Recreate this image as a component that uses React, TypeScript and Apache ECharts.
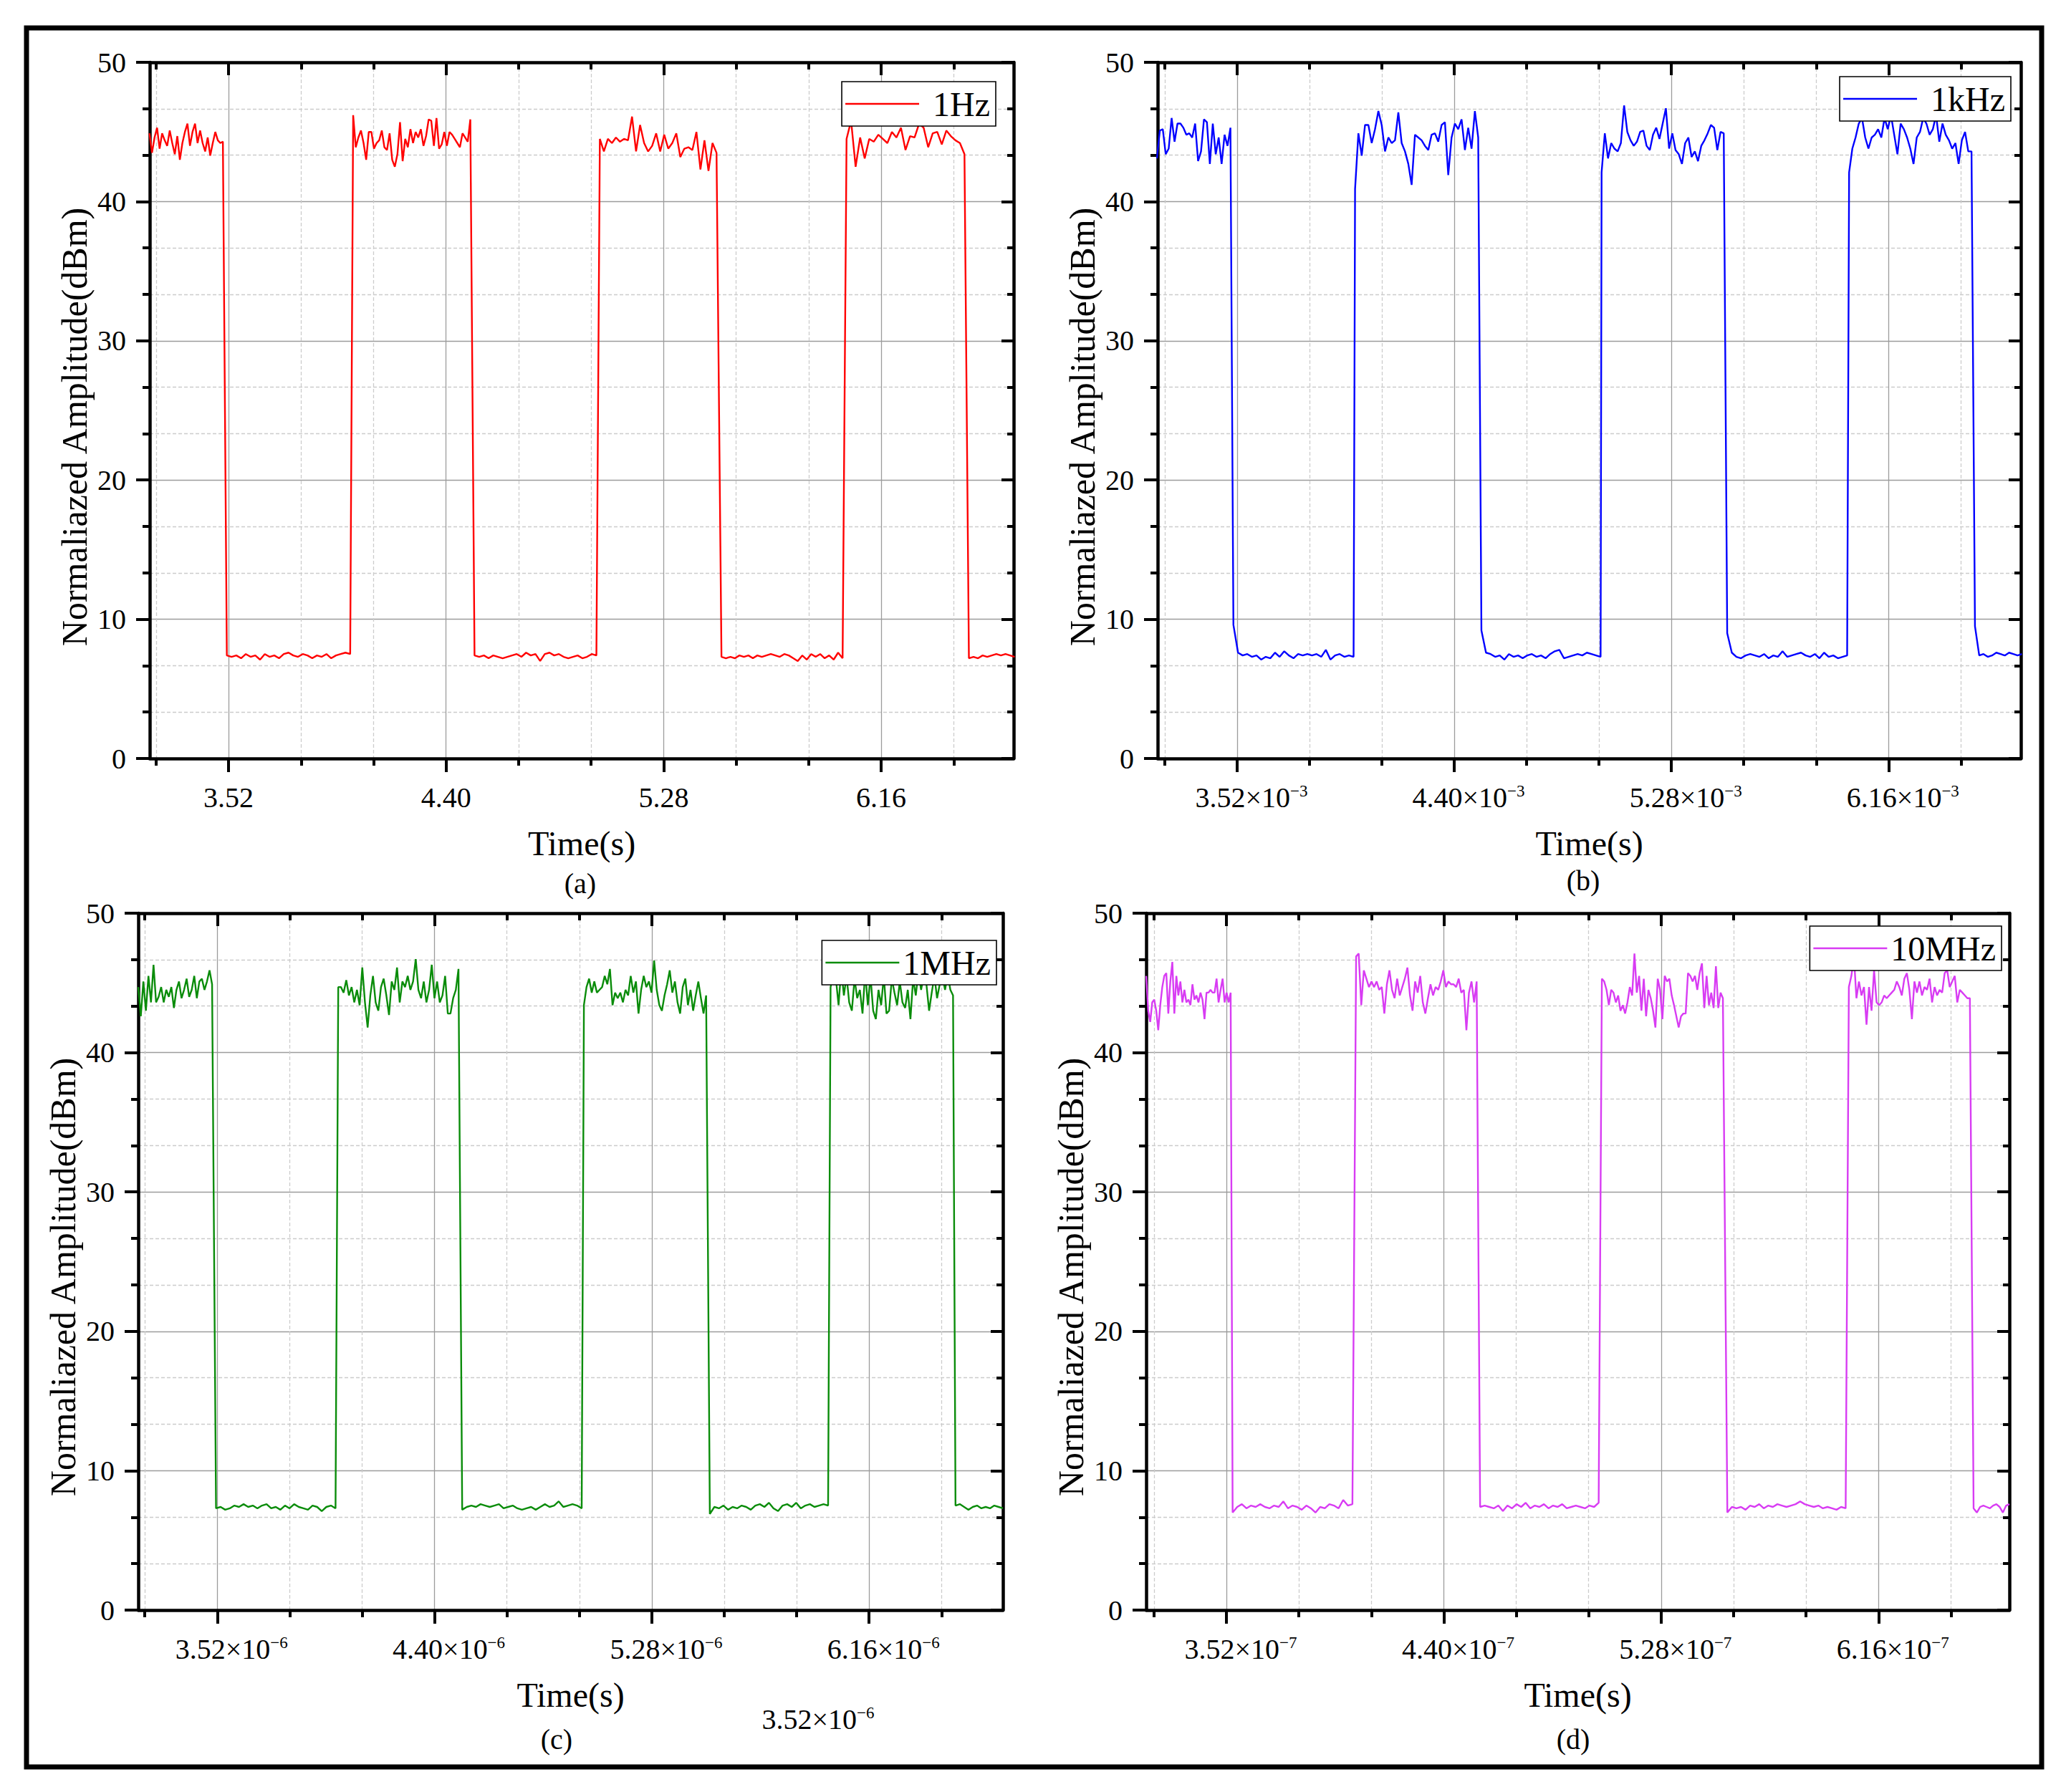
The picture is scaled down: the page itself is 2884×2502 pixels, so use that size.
import React, { useEffect, useRef } from 'react';
import * as echarts from 'echarts';

const FONT = "'Liberation Serif', 'Times New Roman', Times, serif";

// ---- axis ticks ----
const majorTicks = [3.52, 4.40, 5.28, 6.16];
const minorTicks = [3.2267, 3.8133, 4.1067, 4.6933, 4.9867, 5.5733, 5.8667, 6.4533];
const yMin = 0;
const yMax = 50;
const yStep = 10;

// ---- panels ----
const panelNames = ['1Hz', '1kHz', '1MHz', '10MHz'];
const panelColors = ['#ff0000', '#0000ff', '#0a8c0a', '#d83cf3'];
const panelExponents = ['', '−3', '−6', '−7'];
const panelCaptions = ['(a)', '(b)', '(c)', '(d)'];
const xRanges = [[3.201, 6.696], [3.198, 6.696], [3.2, 6.702], [3.195, 6.69]];
const extraLabel = { mantissa: '3.52', exponent: '−6' };

// ---- 1Hz (a) ----
const a_start = [3.2, 3.513, 4.024, 4.515, 5.022, 5.514, 6.02, 6.515];
const a_end = [3.497, 4.012, 4.498, 5.008, 5.494, 6.004, 6.497, 6.7];
const a_h1 = [44.9, 43.5, 44.6, 45.3, 43.8, 44.9, 44.4, 44.0, 45.1, 44.2, 43.4, 44.7, 43.0, 44.2, 45.0, 45.6, 44.0, 45.0, 45.6, 44.2, 45.1, 44.2, 43.6, 44.6, 43.3, 44.2, 45.0, 44.4, 44.2, 44.3];
const a_l1 = [7.4, 7.3, 7.4, 7.2, 7.5, 7.3, 7.4, 7.1, 7.5, 7.3, 7.4, 7.2, 7.5, 7.6, 7.4, 7.3, 7.5, 7.4, 7.2, 7.4, 7.3, 7.5, 7.2, 7.4, 7.5, 7.6, 7.5];
const a_h2 = [46.2, 43.9, 44.6, 45.1, 44.2, 43.0, 45.0, 45.0, 43.8, 44.2, 44.4, 45.1, 43.9, 43.7, 44.9, 43.0, 42.5, 43.4, 45.7, 42.9, 44.5, 43.9, 45.2, 44.2, 45.0, 44.6, 45.2, 44.0, 44.7, 45.9, 45.8, 44.0, 46.0, 43.8, 44.1, 45.0, 44.0, 45.0, 44.8, 44.5, 44.2, 43.9, 44.9, 44.6, 44.3, 45.9];
const a_l2 = [7.4, 7.3, 7.4, 7.2, 7.4, 7.3, 7.2, 7.3, 7.4, 7.5, 7.3, 7.6, 7.4, 7.5, 7.0, 7.5, 7.6, 7.4, 7.5, 7.3, 7.2, 7.3, 7.4, 7.2, 7.3, 7.5, 7.4];
const a_h3 = [44.5, 43.6, 44.5, 44.2, 44.6, 44.3, 44.5, 44.4, 46.1, 43.6, 45.5, 44.2, 43.6, 44.0, 44.9, 43.6, 44.8, 43.8, 44.2, 44.9, 43.2, 43.8, 43.9, 43.7, 45.0, 42.3, 44.4, 42.2, 44.2, 43.5];
const a_l3 = [7.3, 7.2, 7.3, 7.2, 7.4, 7.3, 7.4, 7.2, 7.4, 7.3, 7.4, 7.5, 7.4, 7.3, 7.5, 7.4, 7.2, 7.0, 7.4, 7.1, 7.5, 7.3, 7.5, 7.2, 7.4, 7.1, 7.6, 7.2];
const a_h4 = [44.5, 45.8, 42.5, 44.6, 43.1, 44.5, 44.3, 44.8, 44.5, 44.2, 45.0, 44.6, 45.3, 43.7, 44.7, 44.6, 45.6, 45.3, 43.9, 44.9, 45.0, 44.1, 45.1, 44.7, 44.4, 44.2, 43.4];
const a_l4 = [7.2, 7.3, 7.2, 7.4, 7.3, 7.4, 7.5, 7.4, 7.5, 7.4, 7.3];

// ---- 1kHz (b) ----
const b_start = [3.195, 3.505, 3.998, 4.51, 4.997, 5.506, 6.0, 6.51];
const b_end = [3.493, 3.992, 4.497, 4.993, 5.492, 5.992, 6.496, 6.7];
const b_h1 = [43.1, 45.1, 45.2, 43.4, 43.8, 46.0, 44.3, 45.6, 45.6, 45.3, 44.8, 44.9, 44.6, 45.6, 42.9, 43.6, 45.9, 45.7, 42.7, 45.6, 43.4, 44.6, 42.7, 44.8, 44.0, 45.3];
const b_l1 = [9.6, 7.6, 7.4, 7.5, 7.3, 7.4, 7.1, 7.3, 7.2, 7.6, 7.3, 7.7, 7.4, 7.2, 7.5, 7.4, 7.5, 7.4, 7.5, 7.3, 7.8, 7.1, 7.4, 7.5, 7.3, 7.4, 7.3];
const b_h2 = [40.9, 44.9, 43.3, 45.5, 45.5, 44.2, 45.2, 46.5, 45.5, 43.6, 44.6, 44.2, 44.4, 46.4, 44.2, 43.6, 42.7, 41.2, 44.8, 44.6, 44.4, 44.0, 43.7, 44.8, 44.9, 44.3, 45.5, 45.7, 41.9, 44.6, 45.6, 45.2, 45.9, 43.7, 45.3, 43.8, 46.5, 44.6];
const b_l2 = [9.2, 7.6, 7.5, 7.3, 7.4, 7.1, 7.5, 7.3, 7.4, 7.2, 7.4, 7.5, 7.3, 7.4, 7.2, 7.5, 7.7, 7.8, 7.2, 7.3, 7.4, 7.5, 7.4, 7.6, 7.5, 7.4, 7.3];
const b_h3 = [42.1, 44.9, 43.1, 44.2, 43.8, 43.6, 44.2, 46.9, 45.0, 44.4, 44.0, 44.3, 45.0, 45.1, 44.0, 43.7, 44.8, 45.3, 44.5, 45.6, 46.7, 43.8, 44.9, 43.7, 43.4, 42.7, 44.2, 44.6, 43.2, 43.6, 42.9, 44.0, 44.4, 44.9, 45.5, 45.3, 43.7, 45.0, 44.9];
const b_l3 = [9.0, 7.6, 7.3, 7.2, 7.4, 7.5, 7.4, 7.3, 7.5, 7.2, 7.4, 7.3, 7.7, 7.3, 7.4, 7.5, 7.6, 7.4, 7.3, 7.5, 7.2, 7.6, 7.3, 7.4, 7.2, 7.3, 7.4];
const b_h4 = [42.1, 43.8, 44.6, 45.6, 46.0, 44.6, 43.8, 44.6, 44.8, 45.2, 44.6, 46.0, 45.2, 46.2, 44.8, 43.4, 45.6, 45.2, 44.6, 43.8, 42.7, 44.6, 45.0, 46.0, 45.6, 44.8, 45.2, 46.2, 44.3, 45.6, 44.8, 44.4, 43.8, 44.2, 42.7, 44.4, 45.0, 43.6, 43.6];
const b_l4 = [9.5, 7.4, 7.5, 7.3, 7.4, 7.6, 7.5, 7.4, 7.6, 7.5, 7.4, 7.5];

// ---- 1MHz (c) ----
const c_start = [3.2, 3.515, 4.01, 4.512, 5.005, 5.515, 6.004, 6.51];
const c_end = [3.499, 3.999, 4.497, 4.996, 5.5, 5.994, 6.5, 6.702];
const c_h1 = [44.7, 42.6, 45.1, 43.0, 45.5, 43.6, 46.3, 43.6, 44.0, 44.7, 43.6, 44.5, 44.0, 44.7, 43.2, 44.5, 45.1, 43.9, 44.5, 45.3, 44.0, 44.5, 45.5, 43.9, 45.1, 45.3, 44.5, 45.1, 45.9, 44.9];
const c_l1 = [7.3, 7.4, 7.2, 7.3, 7.5, 7.4, 7.6, 7.4, 7.5, 7.3, 7.5, 7.6, 7.3, 7.4, 7.2, 7.5, 7.3, 7.6, 7.4, 7.3, 7.2, 7.5, 7.4, 7.1, 7.4, 7.5, 7.3];
const c_h2 = [44.7, 44.7, 44.3, 45.2, 44.1, 44.7, 43.6, 44.5, 43.4, 46.1, 43.6, 41.8, 44.1, 45.5, 43.6, 43.0, 44.7, 45.3, 44.1, 42.7, 45.1, 44.5, 46.1, 43.6, 45.1, 44.7, 45.5, 44.5, 45.1, 46.7, 44.5, 43.9, 45.1, 43.6, 44.5, 46.3, 43.9, 45.1, 43.6, 44.1, 45.5, 42.8, 42.8, 43.9, 44.5, 46.0];
const c_l2 = [7.2, 7.4, 7.5, 7.4, 7.6, 7.5, 7.4, 7.5, 7.6, 7.3, 7.4, 7.5, 7.3, 7.2, 7.3, 7.4, 7.2, 7.4, 7.6, 7.4, 7.5, 7.8, 7.4, 7.5, 7.6, 7.5, 7.3];
const c_h3 = [43.4, 44.7, 45.3, 44.3, 45.1, 44.3, 44.5, 44.7, 45.5, 44.9, 46.0, 43.4, 44.3, 43.9, 44.3, 43.6, 44.5, 44.1, 45.5, 44.3, 45.1, 42.8, 44.5, 45.5, 44.7, 45.1, 44.3, 46.6, 44.5, 43.4, 43.0, 44.1, 44.9, 45.9, 44.3, 45.1, 43.6, 42.8, 44.7, 45.3, 43.4, 44.5, 43.0, 44.1, 45.1, 43.9, 42.8, 44.1];
const c_l3 = [6.9, 7.4, 7.3, 7.5, 7.2, 7.4, 7.3, 7.5, 7.4, 7.2, 7.5, 7.6, 7.4, 7.7, 7.3, 7.1, 7.5, 7.6, 7.4, 7.7, 7.3, 7.5, 7.6, 7.4, 7.5, 7.6, 7.5];
const c_h4 = [44.7, 45.6, 45.3, 43.4, 46.0, 44.1, 45.5, 43.6, 43.0, 45.3, 43.9, 44.5, 42.8, 45.8, 43.4, 45.5, 43.0, 42.4, 44.5, 43.4, 45.5, 42.8, 43.0, 45.3, 44.3, 43.4, 45.1, 43.6, 43.2, 44.5, 42.4, 45.3, 44.1, 45.8, 44.5, 45.5, 44.9, 43.0, 44.3, 45.5, 43.9, 44.9, 45.5, 44.5, 45.6, 44.5, 44.1];
const c_l4 = [7.5, 7.6, 7.4, 7.2, 7.4, 7.5, 7.3, 7.4, 7.3, 7.5, 7.4, 7.3];

// ---- 10MHz (d) ----
const d_start = [3.195, 3.545, 4.045, 4.547, 5.04, 5.548, 6.04, 6.545];
const d_end = [3.537, 4.03, 4.533, 5.027, 5.53, 6.027, 6.53, 6.69];
const d_h1 = [45.5, 43.0, 42.2, 43.6, 43.8, 43.0, 41.6, 43.4, 44.7, 45.5, 45.7, 42.8, 45.1, 46.5, 42.8, 45.5, 44.1, 45.1, 43.6, 44.5, 43.6, 43.8, 43.4, 44.9, 43.8, 44.1, 43.6, 44.3, 43.8, 42.4, 44.3, 44.3, 44.5, 44.3, 44.3, 45.3, 43.6, 44.5, 45.3, 43.6, 44.3, 43.6, 44.3];
const d_l1 = [7.0, 7.4, 7.6, 7.3, 7.5, 7.4, 7.6, 7.4, 7.3, 7.5, 7.4, 7.8, 7.3, 7.5, 7.4, 7.2, 7.5, 7.3, 7.0, 7.4, 7.3, 7.6, 7.5, 7.3, 7.9, 7.5, 7.6];
const d_h2 = [46.9, 47.1, 43.4, 45.9, 45.3, 44.7, 45.1, 44.7, 45.1, 44.5, 44.7, 42.8, 44.9, 45.9, 44.5, 43.9, 45.3, 44.1, 44.7, 45.3, 46.1, 44.1, 43.0, 45.1, 44.3, 45.5, 43.6, 42.8, 43.9, 44.9, 44.1, 44.7, 44.5, 45.1, 45.9, 44.7, 45.1, 44.9, 44.9, 44.7, 45.3, 44.3, 44.5, 41.6, 44.3, 45.1, 43.6, 45.1];
const d_l2 = [7.4, 7.5, 7.4, 7.3, 7.5, 7.1, 7.5, 7.3, 7.6, 7.4, 7.7, 7.3, 7.5, 7.4, 7.6, 7.3, 7.5, 7.4, 7.6, 7.3, 7.4, 7.5, 7.4, 7.3, 7.5, 7.4, 7.7];
const d_h3 = [45.3, 45.1, 44.5, 43.4, 44.5, 44.3, 43.6, 44.1, 43.0, 43.4, 42.8, 43.6, 44.7, 44.1, 47.1, 44.3, 45.5, 43.0, 45.3, 42.6, 44.5, 43.9, 43.0, 41.8, 45.3, 44.5, 42.4, 45.5, 45.1, 45.3, 44.1, 43.4, 42.6, 41.8, 42.6, 42.8, 42.8, 45.7, 45.5, 45.1, 45.5, 44.5, 45.7, 46.4, 43.2, 45.5, 43.4, 44.3, 43.2, 46.2, 43.2, 44.3, 43.9];
const d_l3 = [7.0, 7.4, 7.3, 7.4, 7.2, 7.5, 7.4, 7.6, 7.3, 7.5, 7.4, 7.6, 7.5, 7.4, 7.5, 7.6, 7.8, 7.6, 7.5, 7.4, 7.5, 7.3, 7.4, 7.3, 7.2, 7.4, 7.3];
const d_h4 = [44.7, 45.5, 46.9, 43.9, 45.1, 44.1, 44.7, 42.0, 44.7, 43.0, 45.9, 43.6, 43.4, 43.6, 44.1, 43.9, 44.1, 44.3, 44.5, 45.1, 44.7, 44.1, 45.3, 45.7, 44.5, 42.4, 45.1, 44.3, 45.1, 44.1, 44.7, 44.5, 45.3, 43.6, 44.7, 44.1, 44.5, 44.3, 45.7, 45.9, 44.7, 45.1, 45.5, 43.6, 44.5, 44.3, 44.1, 43.9, 43.9];
const d_l4 = [7.3, 7.0, 7.4, 7.5, 7.4, 7.3, 7.5, 7.6, 7.4, 7.0, 7.5, 7.6];

const panelStarts = [a_start, b_start, c_start, d_start];
const panelEnds = [a_end, b_end, c_end, d_end];
const panelSegments = [
  [a_h1, a_l1, a_h2, a_l2, a_h3, a_l3, a_h4, a_l4],
  [b_h1, b_l1, b_h2, b_l2, b_h3, b_l3, b_h4, b_l4],
  [c_h1, c_l1, c_h2, c_l2, c_h3, c_l3, c_h4, c_l4],
  [d_h1, d_l1, d_h2, d_l2, d_h3, d_l3, d_h4, d_l4],
];

// ---- layout (pixels) ----
const GRIDS = [
  { left: 209, top: 87, width: 1206, height: 972 },
  { left: 1616, top: 87, width: 1205, height: 972 },
  { left: 193, top: 1275, width: 1207, height: 973 },
  { left: 1600, top: 1275, width: 1205, height: 973 },
];
const LEGEND_POS = [
  { right: 1494, top: 114 },
  { right: 77, top: 107 },
  { right: 1493, top: 1313 },
  { right: 90, top: 1293 },
];
const CAPTION_POS = [[810, 1233], [2210, 1229], [777, 2428], [2196, 2428]];
const YTITLE_POS = [[104, 596], [1511, 596], [88, 1783], [1495, 1783]];

function buildLine(starts: number[], ends: number[], segs: number[][]) {
  const out: number[][] = [];
  segs.forEach((seg, k) => {
    const n = seg.length;
    seg.forEach((v, j) => {
      out.push([starts[k] + ((ends[k] - starts[k]) * j) / (n - 1), v]);
    });
  });
  return out;
}

const RICH = {
  m: { fontSize: 40, fontFamily: FONT, color: '#000', padding: [0, 0, 0, 40] },
  s: { fontSize: 23, fontFamily: FONT, color: '#000', verticalAlign: 'top', lineHeight: 26 },
};

function buildOption() {
  const grid: any[] = [];
  const xAxis: any[] = [];
  const yAxis: any[] = [];
  const series: any[] = [];
  const legend: any[] = [];
  const graphic: any[] = [];
  const axisLineStyle = { color: '#000', width: 4.5 };
  const tickStyle = { color: '#000', width: 4 };

  for (let p = 0; p < 4; p++) {
    const g = GRIDS[p];
    grid.push({ ...g, containLabel: false, outerBoundsMode: 'none' });
    const [xmin, xmax] = xRanges[p];
    const exp = panelExponents[p];
    const fmt = (v: number) => (exp ? `{m|${v.toFixed(2)}×10}{s|${exp}}` : v.toFixed(2));
    // bottom major
    xAxis.push({
      type: 'value', gridIndex: p, position: 'bottom', min: xmin, max: xmax,
      axisLine: { show: true, onZero: false, lineStyle: axisLineStyle },
      axisTick: { show: true, customValues: majorTicks, length: 19, inside: false, lineStyle: tickStyle },
      axisLabel: {
        show: true, customValues: majorTicks, margin: 34, formatter: fmt, rich: RICH,
        fontSize: 40, fontFamily: FONT, color: '#000',
      },
      splitLine: { show: true, lineStyle: { color: '#9c9c9c', width: 1.3 } },
      name: 'Time(s)', nameLocation: 'middle', nameGap: 94,
      nameTextStyle: { fontSize: 48, fontFamily: FONT, color: '#000' },
    });
    // bottom minor
    xAxis.push({
      type: 'value', gridIndex: p, position: 'bottom', min: xmin, max: xmax,
      axisLine: { show: false, onZero: false },
      axisTick: { show: true, customValues: minorTicks, length: 10, inside: false, lineStyle: tickStyle },
      axisLabel: { show: false },
      splitLine: { show: true, lineStyle: { color: '#cccccc', width: 1.3, type: [5, 3] } },
    });
    // top major
    xAxis.push({
      type: 'value', gridIndex: p, position: 'top', min: xmin, max: xmax,
      axisLine: { show: true, onZero: false, lineStyle: axisLineStyle },
      axisTick: { show: true, customValues: majorTicks, length: 18, inside: true, lineStyle: tickStyle },
      axisLabel: { show: false },
      splitLine: { show: false },
    });
    // top minor
    xAxis.push({
      type: 'value', gridIndex: p, position: 'top', min: xmin, max: xmax,
      axisLine: { show: false, onZero: false },
      axisTick: { show: true, customValues: minorTicks, length: 10, inside: true, lineStyle: tickStyle },
      axisLabel: { show: false },
      splitLine: { show: false },
    });
    yAxis.push({
      type: 'value', gridIndex: p, position: 'left', min: yMin, max: yMax, interval: yStep,
      axisLine: { show: true, onZero: false, lineStyle: axisLineStyle },
      axisTick: { show: true, length: 19, inside: false, lineStyle: tickStyle },
      minorTick: { show: true, splitNumber: 3, length: 10, lineStyle: tickStyle },
      axisLabel: { show: true, margin: 33, fontSize: 40, fontFamily: FONT, color: '#000' },
      splitLine: { show: true, lineStyle: { color: '#9c9c9c', width: 1.3 } },
      minorSplitLine: { show: true, lineStyle: { color: '#cccccc', width: 1.3, type: [5, 3] } },
    });
    yAxis.push({
      type: 'value', gridIndex: p, position: 'right', min: yMin, max: yMax, interval: yStep,
      axisLine: { show: true, onZero: false, lineStyle: axisLineStyle },
      axisTick: { show: true, length: 17, inside: true, lineStyle: tickStyle },
      minorTick: { show: true, splitNumber: 3, length: 9, lineStyle: tickStyle },
      axisLabel: { show: false },
      splitLine: { show: false },
    });
    series.push({
      type: 'line', name: panelNames[p], xAxisIndex: p * 4, yAxisIndex: p * 2,
      data: buildLine(panelStarts[p], panelEnds[p], panelSegments[p]),
      symbol: 'none', showSymbol: false, clip: true, z: 3,
      lineStyle: { color: panelColors[p], width: 2.4 },
      itemStyle: { color: panelColors[p] },
    });
    legend.push({
      data: [panelNames[p]], ...LEGEND_POS[p], orient: 'horizontal',
      icon: 'rect', itemWidth: 103, itemHeight: 2.6, itemGap: 0,
      backgroundColor: '#ffffff', borderColor: '#000', borderWidth: 1.6, borderRadius: 0,
      padding: [7, 8, 7, 5], selectedMode: false, z: 10,
      textStyle: { fontSize: 48, fontFamily: FONT, color: '#000', padding: [0, 0, 0, p < 2 ? 14 : 0] },
    });
    graphic.push({
      type: 'text', x: CAPTION_POS[p][0], y: CAPTION_POS[p][1], silent: true,
      style: { text: panelCaptions[p], fontSize: 40, fontFamily: FONT, fill: '#000', align: 'center', verticalAlign: 'middle' },
    });
    graphic.push({
      type: 'text', x: YTITLE_POS[p][0], y: YTITLE_POS[p][1], rotation: Math.PI / 2, silent: true,
      style: { text: 'Normaliazed Amplitude(dBm)', fontSize: 50, fontFamily: FONT, fill: '#000', align: 'center', verticalAlign: 'middle' },
    });
  }
  graphic.push({
    type: 'text', x: 1142, y: 2400, silent: true,
    style: {
      text: `{m|${extraLabel.mantissa}×10}{s|${extraLabel.exponent}}`,
      rich: { m: { fontSize: 40, fontFamily: FONT, fill: '#000' }, s: { fontSize: 23, fontFamily: FONT, fill: '#000', verticalAlign: 'top', lineHeight: 26 } },
      align: 'center', verticalAlign: 'middle',
    },
  });
  graphic.push({
    type: 'rect', silent: true, z: 100,
    shape: { x: 37, y: 39, width: 2813, height: 2428 },
    style: { fill: 'none', stroke: '#000', lineWidth: 7 },
  });

  return {
    animation: false,
    backgroundColor: '#ffffff',
    textStyle: { fontFamily: FONT },
    grid, xAxis, yAxis, series, legend, graphic,
  };
}

export default function App() {
  const ref = useRef<HTMLDivElement>(null);
  useEffect(() => {
    if (!ref.current) return;
    const chart = echarts.init(ref.current, undefined, { renderer: 'svg' });
    chart.setOption(buildOption() as any);
    return () => chart.dispose();
  }, []);
  return (
    <div
      ref={ref}
      style={{ position: 'absolute', left: 0, top: 0, width: 2884, height: 2502, background: '#fff' }}
    />
  );
}
